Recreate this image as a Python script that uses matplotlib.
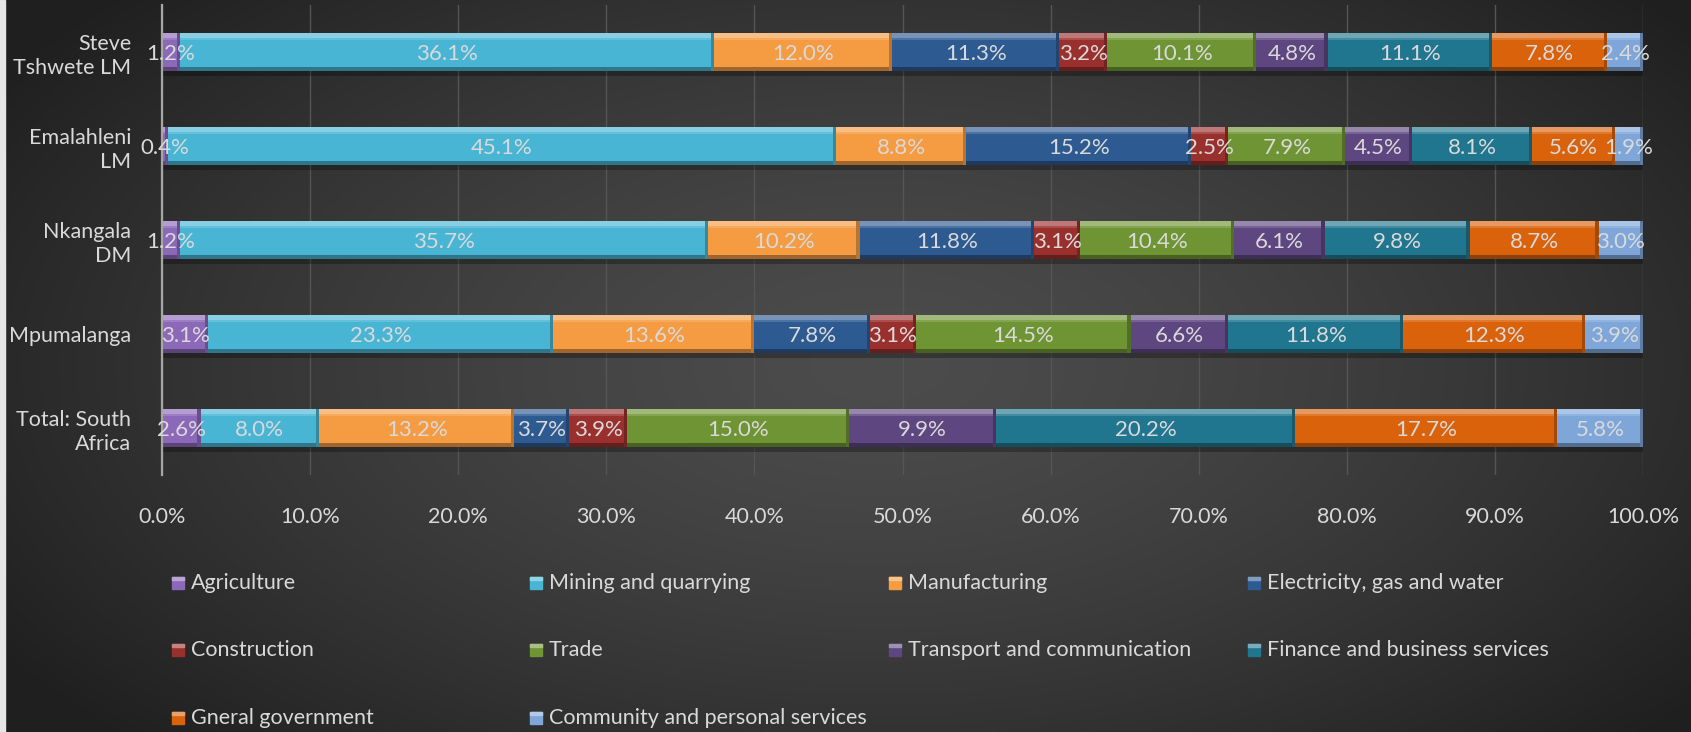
import numpy as np
import matplotlib
matplotlib.use("Agg")
import matplotlib.pyplot as plt
from matplotlib.colors import to_rgb
from matplotlib.patches import Rectangle

plt.rcParams['font.family'] = ['Lato', 'DejaVu Sans']

regions = ["Steve\nTshwete LM", "Emalahleni\nLM", "Nkangala\nDM", "Mpumalanga", "Total: South\nAfrica"]

sectors = ["Agriculture", "Mining and quarrying", "Manufacturing", "Electricity, gas and water",
           "Construction", "Trade", "Transport and communication", "Finance and business services",
           "Gneral government", "Community and personal services"]

agriculture   = [1.2, 0.4, 1.2, 3.1, 2.6]
mining        = [36.1, 45.1, 35.7, 23.3, 8.0]
manufacturing = [12.0, 8.8, 10.2, 13.6, 13.2]
electricity   = [11.3, 15.2, 11.8, 7.8, 3.7]
construction  = [3.2, 2.5, 3.1, 3.1, 3.9]
trade         = [10.1, 7.9, 10.4, 14.5, 15.0]
transport     = [4.8, 4.5, 6.1, 6.6, 9.9]
finance       = [11.1, 8.1, 9.8, 11.8, 20.2]
government    = [7.8, 5.6, 8.7, 12.3, 17.7]
community     = [2.4, 1.9, 3.0, 3.9, 5.8]

series = [agriculture, mining, manufacturing, electricity, construction,
          trade, transport, finance, government, community]

colors = ["#8b68b8", "#48b5d4", "#f59b42", "#2e5a92", "#9a302d",
          "#6e9434", "#5e4680", "#21768f", "#d9620b", "#7ea6d9"]

xticks = [0, 10, 20, 30, 40, 50, 60, 70, 80, 90, 100]


def mix(c, other, t):
    a = np.array(to_rgb(c)); b = np.array(to_rgb(other))
    return tuple(a * (1 - t) + b * t)


fig = plt.figure(figsize=(16.91, 7.32), dpi=100)

# radial dark-grey backdrop
bg = fig.add_axes([0, 0, 1, 1], zorder=-10)
yy, xx = np.mgrid[0:1:400j, 0:1:900j]
r = np.sqrt(((xx - 0.52) / 0.62) ** 2 + ((yy - 0.5) / 0.75) ** 2)
r = np.clip(r, 0, 1)
centre = np.array([0x4c, 0x4c, 0x4c]) / 255
edge = np.array([0x1f, 0x1f, 0x1f]) / 255
img = centre[None, None, :] * (1 - r[..., None] ** 1.4) + edge[None, None, :] * (r[..., None] ** 1.4)
bg.imshow(img, extent=[0, 1, 0, 1], aspect='auto', origin='lower')
bg.add_patch(Rectangle((0, 0), 0.0028, 1, color='#e6e6e6', transform=bg.transAxes))
bg.set_axis_off()

ax = fig.add_axes([162 / 1691, 1 - 475 / 732, (1643 - 162) / 1691, 470 / 732])
ax.set_facecolor('none')

y = np.arange(len(regions))
h = 0.41
edge_w = 0.22
left = np.zeros(len(regions))
for vals, col in zip(series, colors):
    vals = np.array(vals)
    # soft drop shadow
    ax.barh(y + 0.045, vals, left=left, height=h + 0.02, color='black', alpha=0.28, linewidth=0, zorder=2)
    ax.barh(y, vals, left=left, height=h, color=col, linewidth=0, zorder=3)
    # bevel: light upper rim, dark lower rim, shaded right end
    ax.barh(y - h / 2 + h * 0.07, vals, left=left, height=h * 0.14, color=mix(col, 'white', 0.35), linewidth=0, zorder=4)
    ax.barh(y - h / 2 + h * 0.17, vals, left=left, height=h * 0.06, color=mix(col, 'white', 0.15), linewidth=0, zorder=4)
    ax.barh(y + h / 2 - h * 0.05, vals, left=left, height=h * 0.10, color=mix(col, 'black', 0.35), linewidth=0, zorder=4)
    ax.barh(y, np.minimum(vals, edge_w), left=left + vals - np.minimum(vals, edge_w), height=h,
            color=mix(col, 'black', 0.25), linewidth=0, zorder=4)
    for i, v in enumerate(vals):
        ax.text(left[i] + v / 2, y[i] + 0.02, f"{v:.1f}%", ha='center', va='center',
                fontsize=16, color='#dadada', zorder=6)
    left += vals

ax.set_xlim(0, 100)
ax.set_ylim(len(regions) - 0.5, -0.5)
ax.set_xticks(xticks)
ax.set_xticklabels([f"{t:.1f}%" for t in xticks], fontsize=15.5, color='#d9d9d9')
ax.set_yticks(y)
ax.set_yticklabels(regions, fontsize=15.5, color='#d9d9d9', linespacing=1.25)
ax.tick_params(axis='both', length=0)
ax.tick_params(axis='x', pad=23)
ax.tick_params(axis='y', pad=22)
ax.grid(axis='x', color='#555555', linewidth=1.0, zorder=0)
ax.set_axisbelow(True)
for s in ['top', 'right', 'bottom']:
    ax.spines[s].set_visible(False)
ax.spines['left'].set_color('#a6a6a6')
ax.spines['left'].set_linewidth(1.6)
ax.spines['left'].set_zorder(5)

# legend laid out in a 4-column grid
W, H = 1691, 732
col_x = [172, 530, 889, 1248]
row_y = [583, 650, 718]
for k, (name, col) in enumerate(zip(sectors, colors)):
    cx = col_x[k % 4]
    cy = row_y[k // 4]
    fig.patches.append(Rectangle((cx / W, 1 - (cy + 6) / H), 12 / W, 12 / H, color=col,
                                 transform=fig.transFigure, figure=fig))
    fig.patches.append(Rectangle((cx / W, 1 - (cy - 3) / H), 12 / W, 3 / H, color=mix(col, 'white', 0.4),
                                 transform=fig.transFigure, figure=fig))
    fig.text((cx + 19) / W, 1 - cy / H, name, fontsize=15.5, color='#d9d9d9', va='center', ha='left')

fig.savefig("out.png", dpi=100)
